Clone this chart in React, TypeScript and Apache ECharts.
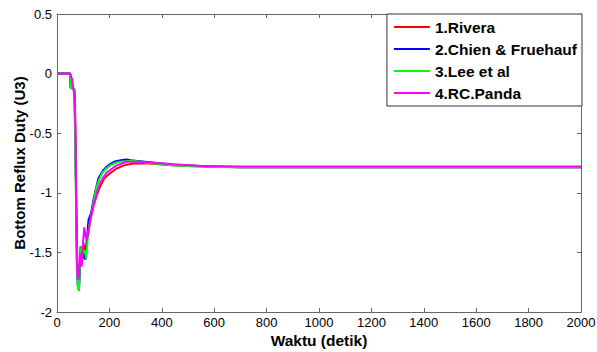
import React, { useEffect, useRef } from "react";
import * as echarts from "echarts";

const seriesNames = ["1.Rivera", "2.Chien & Fruehauf", "3.Lee et al", "4.RC.Panda"];
const seriesColors = ["#ff0000", "#0000ff", "#00ff00", "#ff00ff"];

const riveraTime = [0, 50, 53, 66, 70, 74, 79, 84, 89, 95, 101, 108, 115, 122, 130, 140, 152, 164, 180, 200, 225, 255, 290, 350, 450, 550, 700, 2000];
const riveraValue = [0, 0, -0.12, -0.13, -0.45, -1.2, -1.72, -1.78, -1.5, -1.6, -1.42, -1.52, -1.38, -1.3, -1.2, -1.1, -1.02, -0.95, -0.88, -0.84, -0.8, -0.77, -0.755, -0.755, -0.77, -0.78, -0.785, -0.785];

const chienTime = [0, 50, 52, 66, 68, 72, 76, 79, 84, 90, 96, 102, 108, 114, 120, 130, 139, 148, 158, 168, 177, 190, 203, 218, 234, 250, 266, 290, 317, 380, 450, 550, 700, 2000];
const chienValue = [0, 0, -0.12, -0.13, -0.3, -0.9, -1.5, -1.78, -1.82, -1.45, -1.56, -1.5, -1.56, -1.4, -1.23, -1.17, -1.06, -0.97, -0.88, -0.84, -0.81, -0.78, -0.76, -0.74, -0.73, -0.725, -0.72, -0.73, -0.735, -0.75, -0.765, -0.775, -0.785, -0.785];

const leeTime = [0, 50, 53, 65, 68, 72, 76, 80, 84, 89, 94, 101, 106, 111, 116, 120, 132, 142, 151, 161, 171, 186, 203, 222, 241, 265, 291, 350, 450, 550, 650, 2000];
const leeValue = [0, 0, -0.12, -0.13, -0.4, -1.0, -1.55, -1.8, -1.82, -1.5, -1.45, -1.51, -1.48, -1.55, -1.42, -1.32, -1.17, -1.05, -0.95, -0.89, -0.84, -0.8, -0.77, -0.75, -0.74, -0.735, -0.73, -0.75, -0.77, -0.78, -0.785, -0.785];

const pandaTime = [0, 50, 58, 64, 69, 72, 75, 79, 83, 88, 94, 100, 104, 109, 113, 120, 126, 135, 145, 155, 164, 177, 190, 208, 228, 247, 266, 317, 380, 444, 550, 699, 2000];
const pandaValue = [0, 0, -0.05, -0.15, -0.25, -0.8, -1.56, -1.7, -1.73, -1.51, -1.62, -1.4, -1.29, -1.36, -1.4, -1.34, -1.23, -1.15, -1.06, -0.98, -0.92, -0.87, -0.83, -0.8, -0.77, -0.755, -0.74, -0.74, -0.75, -0.76, -0.775, -0.78, -0.78];

const xTicks = { min: 0, max: 2000, interval: 200 };
const yTicks = { min: -2, max: 0.5, interval: 0.5 };

const zip = (t: number[], v: number[]) => t.map((x, i) => [x, v[i]]);

export default function App() {
  const ref = useRef<HTMLDivElement>(null);
  useEffect(() => {
    if (!ref.current) return;
    const chart = echarts.init(ref.current, null, { renderer: "svg" });
    const axisColor = "#666666";
    const font = "'Liberation Sans', Arial, sans-serif";
    const dataSets = [
      zip(riveraTime, riveraValue),
      zip(chienTime, chienValue),
      zip(leeTime, leeValue),
      zip(pandaTime, pandaValue),
    ];
    const commonX = {
      type: "value" as const,
      min: xTicks.min,
      max: xTicks.max,
      interval: xTicks.interval,
      splitLine: { show: false },
      axisLine: { show: true, onZero: false, lineStyle: { color: axisColor, width: 1 } },
      axisTick: { show: true, inside: true, length: 4, lineStyle: { color: axisColor } },
    };
    const commonY = {
      type: "value" as const,
      min: yTicks.min,
      max: yTicks.max,
      interval: yTicks.interval,
      splitLine: { show: false },
      axisLine: { show: true, onZero: false, lineStyle: { color: axisColor, width: 1 } },
      axisTick: { show: true, inside: true, length: 4, lineStyle: { color: axisColor } },
    };
    chart.setOption({
      animation: false,
      backgroundColor: "#ffffff",
      textStyle: { fontFamily: font },
      grid: { left: 57, right: 16, top: 14, bottom: 40, containLabel: false, outerBoundsMode: "none" },
      xAxis: [
        {
          ...commonX,
          position: "bottom",
          name: "Waktu (detik)",
          nameLocation: "middle",
          nameGap: 20,
          nameMoveOverlap: false,
          nameTextStyle: { fontFamily: font, fontWeight: "bold", fontSize: 15.5, color: "#000" },
          axisLabel: { color: "#000", fontSize: 13, fontFamily: font, margin: 4, formatter: (v: number) => String(v) },
        },
        {
          ...commonX,
          position: "top",
          axisLabel: { show: false },
        },
      ],
      yAxis: [
        {
          ...commonY,
          position: "left",
          name: "Bottom Reflux Duty (U3)",
          nameLocation: "middle",
          nameGap: 30,
          nameMoveOverlap: false,
          nameTextStyle: { fontFamily: font, fontWeight: "bold", fontSize: 15, color: "#000" },
          axisLabel: { color: "#000", fontSize: 13, fontFamily: font, margin: 5, formatter: (v: number) => String(v) },
        },
        {
          ...commonY,
          position: "right",
          axisLabel: { show: false },
        },
      ],
      legend: {
        orient: "vertical",
        right: 15,
        top: 14,
        backgroundColor: "#ffffff",
        borderColor: "#333333",
        borderWidth: 1,
        padding: [5, 5, 5, 7],
        icon: "rect",
        itemWidth: 36,
        itemHeight: 2,
        itemGap: 6,
        itemTextGap: 3,
        textStyle: { fontFamily: font, fontWeight: "bold", fontSize: 15.5, color: "#000", lineHeight: 15 },
        data: seriesNames,
      },
      series: seriesNames.map((name, i) => ({
        name,
        type: "line",
        data: dataSets[i],
        symbol: "none",
        lineStyle: { color: seriesColors[i], width: 2 },
        itemStyle: { color: seriesColors[i] },
        z: 2 + i,
      })),
    });
    return () => chart.dispose();
  }, []);
  return <div ref={ref} style={{ position: "absolute", left: 0, top: 0, width: 597, height: 352 }} />;
}
